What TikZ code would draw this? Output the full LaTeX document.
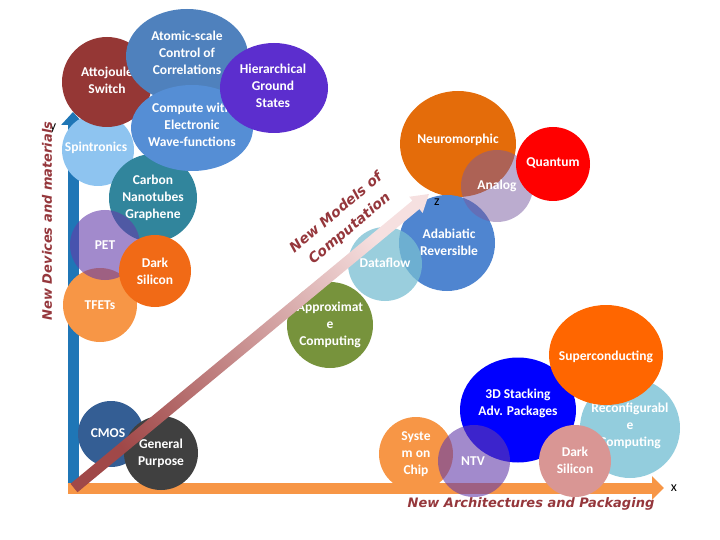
\documentclass[tikz,border=0pt]{standalone}
\usepackage{fontspec}
\setmainfont{Carlito}
\newfontfamily\axisfont{DejaVu Sans}
\usetikzlibrary{arrows.meta,shapes.geometric,calc}
\definecolor{attoC}{RGB}{149,55,53}
\definecolor{atomC}{HTML}{4F81BD}
\definecolor{compC}{HTML}{558ED5}
\definecolor{hierC}{RGB}{92,46,206}
\definecolor{spinC}{RGB}{142,196,240}
\definecolor{carbC}{HTML}{31859C}
\definecolor{petC}{RGB}{100,60,170}
\definecolor{dsilC}{RGB}{241,106,22}
\definecolor{tfetC}{HTML}{F79646}
\definecolor{cmosC}{RGB}{52,94,148}
\definecolor{gpC}{HTML}{404040}
\definecolor{neuroC}{HTML}{E46C0A}
\definecolor{quantC}{HTML}{FF0000}
\definecolor{analogC}{RGB}{120,90,160}
\definecolor{adabC}{RGB}{79,133,208}
\definecolor{flowC}{RGB}{120,190,210}
\definecolor{approxC}{HTML}{77933C}
\definecolor{superC}{HTML}{FF6600}
\definecolor{stackC}{HTML}{0000FF}
\definecolor{reconfC}{HTML}{93CDDD}
\definecolor{dsilpC}{HTML}{D99694}
\definecolor{labelred}{RGB}{149,55,60}
\definecolor{yaxisC}{RGB}{31,118,182}
\definecolor{xaxisC}{HTML}{F79646}
\definecolor{diagdark}{RGB}{160,72,72}
\definecolor{diaglight}{RGB}{246,224,224}
\tikzset{
  bubble/.style={circle, fill=#1, draw=none, inner sep=0pt},
  oval/.style={ellipse, fill=#1, draw=none, inner sep=0pt},
  bubtext/.style={text=white, font=\bfseries\fontsize{13.5}{17}\selectfont, align=center, inner sep=0pt},
  axislabel/.style={text=labelred, font=\axisfont\bfseries\itshape\fontsize{13}{16}\selectfont, inner sep=0pt},
  axisletter/.style={font=\fontsize{14}{16}\selectfont, inner sep=0pt},
  yaxisarr/.style={draw=yaxisC, line width=11pt, -{Triangle[width=23pt,length=13pt]}},
  xaxisarr/.style={draw=xaxisC, line width=11pt, -{Triangle[width=23pt,length=12pt]}},
}

\begin{document}
\begin{tikzpicture}[x=1pt, y=-1pt]
\useasboundingbox (0,0) rectangle (720,540);

% axes
\coordinate (ystart) at (73,493);
\coordinate (ytip) at (73,112);
\coordinate (xstart) at (68,488);
\coordinate (xtip) at (664,488);
\draw[yaxisarr] (ystart) -- (ytip);
\draw[xaxisarr] (xstart) -- (xtip);

% devices and materials
\node[bubble=spinC, minimum size=72pt] (spin) at (98,150) {};
\node[bubtext] (spintext) at (96,148) {Spintronics};
\node[bubble=carbC, minimum size=88pt] (carb) at (153,198) {};
\node[bubtext] (carbtext) at (carb) {Carbon\\Nanotubes\\Graphene};
\node[bubble=tfetC, minimum size=74pt] (tfet) at (100,305) {};
\node[bubtext] (tfettext) at (tfet) {TFETs};
\node[bubble=petC, fill opacity=0.6, minimum size=70pt] (pet) at (105,245) {};
\node[bubtext] (pettext) at (pet) {PET};
\node[bubble=dsilC, minimum size=72pt] (dsil) at (155,271) {};
\node[bubtext] (dsiltext) at (dsil) {Dark\\Silicon};
\node[bubble=attoC, minimum size=90pt] (atto) at (107,82) {};
\node[bubtext] (attotext) at (107,80) {Attojoule\\Switch};
\node[oval=atomC, minimum width=122pt, minimum height=94pt] (atom) at (187,56) {};
\node[bubtext] (atomtext) at (187,53) {Atomic-scale\\Control of\\Correlations};
\node[oval=compC, minimum width=122pt, minimum height=86pt] (comp) at (192,128) {};
\node[bubtext] (comptext) at (192,125) {Compute with\\Electronic\\Wave-functions};
\node[oval=hierC, minimum width=108pt, minimum height=90pt] (hier) at (274,88) {};
\node[bubtext] (hiertext) at (273,86) {Hierarchical\\Ground\\States};
\node[bubble=cmosC, minimum size=66pt] (cmos) at (111,434) {};
\node[bubtext] (cmostext) at (108,433) {CMOS};
\node[bubble=gpC, minimum size=74pt] (gp) at (161,453) {};
\node[bubtext] (gptext) at (gp) {General\\Purpose};

% models of computation
\node[oval=neuroC, minimum width=116pt, minimum height=106pt] (neuro) at (458,144) {};
\node[bubtext] (neurotext) at (458,140) {Neuromorphic};
\node[bubble=adabC, minimum size=96pt] (adab) at (447,243) {};
\node[bubtext] (adabtext) at (449,242) {Adabiatic\\Reversible};
\node[bubble=analogC, fill opacity=0.5, minimum size=72pt] (analog) at (497,186) {};
\node[bubtext] (analogtext) at (analog) {Analog};
\node[bubble=quantC, minimum size=74pt] (quant) at (553,164) {};
\node[bubtext] (quanttext) at (553,163) {Quantum};
\node[bubble=flowC, fill opacity=0.75, minimum size=74pt] (flow) at (385,264) {};
\node[bubtext] (flowtext) at (385,263) {Dataflow};
\node[bubble=approxC, minimum size=86pt] (approx) at (330,325) {};
\node[bubtext] (approxtext) at (approx) {Approximat\\e\\Computing};

% architectures and packaging
\node[oval=stackC, minimum width=116pt, minimum height=105pt] (stack) at (518,410) {};
\node[bubtext] (stacktext) at (518,403) {3D Stacking\\Adv. Packages};
\node[bubble=reconfC, minimum size=100pt] (reconf) at (630,428) {};
\node[bubtext] (reconftext) at (630,426) {Reconfigurabl\\e\\Computing};
\node[oval=superC, minimum width=114pt, minimum height=100pt] (super) at (606,355) {};
\node[bubtext] (supertext) at (606,357) {Superconducting};
\node[bubble=tfetC, minimum size=74pt] (soc) at (416,454) {};
\node[bubtext] (soctext) at (soc) {Syste\\m on\\Chip};
\node[bubble=petC, fill opacity=0.6, minimum size=72pt] (ntv) at (474,461) {};
\node[bubtext] (ntvtext) at (473,461) {NTV};
\node[bubble=dsilpC, minimum size=72pt] (dsilp) at (575,461) {};
\node[bubtext] (dsilptext) at (575,460) {Dark\\Silicon};

% diagonal arrow
\coordinate (dstart) at (74,488);
\coordinate (dtip) at (429,194);
\coordinate (dbase) at ($(dtip)!17pt!(dstart)$);
\shade[bottom color=diagdark, top color=diaglight, shading angle=-50]
  ($(dstart)!5.5pt!90:(dtip)$) -- ($(dbase)!5.5pt!90:(dtip)$) -- ($(dbase)!10.5pt!90:(dtip)$)
  -- (dtip) -- ($(dbase)!10.5pt!-90:(dtip)$) -- ($(dbase)!5.5pt!-90:(dtip)$)
  -- ($(dstart)!5.5pt!-90:(dtip)$) -- cycle;

% labels
\node[axisletter] (ylab) at (53,128) {y};
\node[axisletter] (xlab) at (674,488) {x};
\node[axisletter] (zlab) at (437,202) {z};
\node[axislabel, rotate=90] (devlab) at (47,221) {New Devices and materials};
\node[axislabel] (archlab) at (531,504) {New Architectures and Packaging};
\node[axislabel, font=\axisfont\bfseries\itshape\fontsize{14}{21}\selectfont, align=center, rotate=40] (modlab) at (343,221) {New Models of\\Computation};
\end{tikzpicture}
\end{document}
